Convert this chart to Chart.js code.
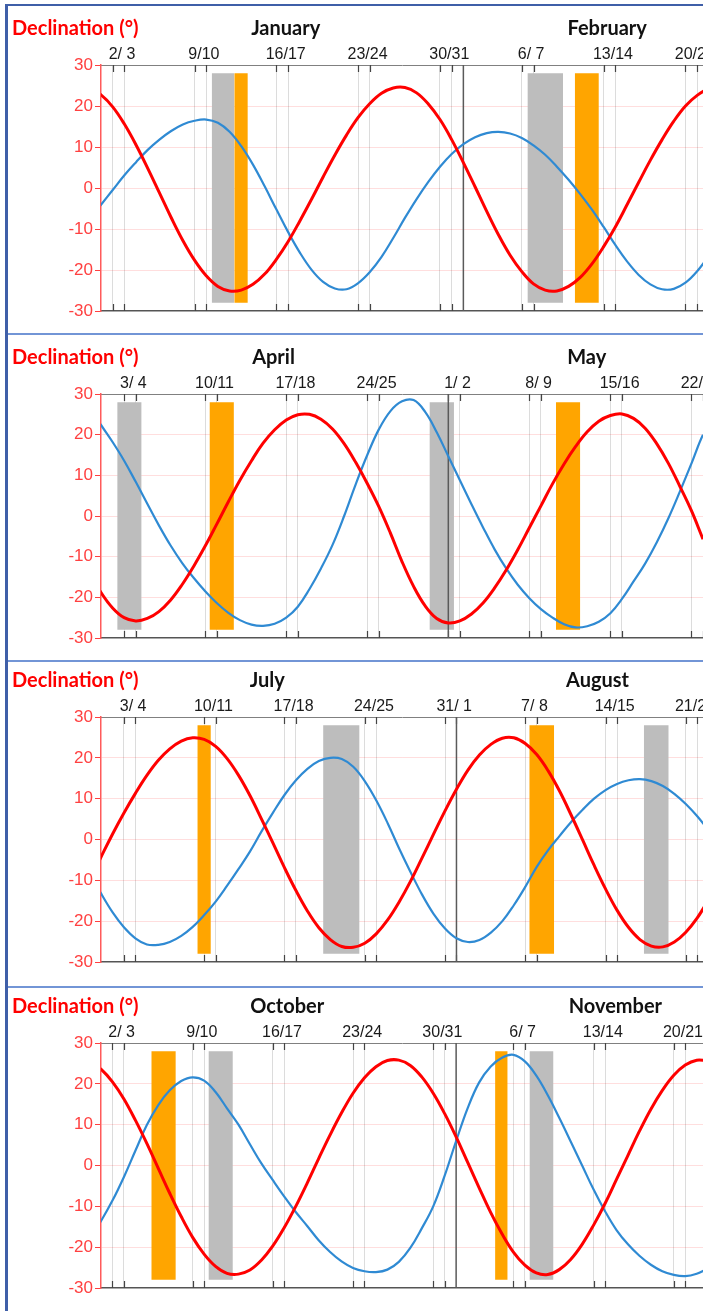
<!DOCTYPE html>
<html lang="en">
<head>
<meta charset="UTF-8">
<title>Declination (°)</title>
<script src="https://cdn.jsdelivr.net/npm/chart.js@4"></script>
<style>
  body { margin: 0; background: #fff; }
  .page { position: relative; width: 703px; height: 1311px; overflow: hidden; background: #fff; }
  .page canvas { position: absolute; left: 0; }
  .rule { position: absolute; z-index: 2; }
  .edge-left { left: 5px; top: 4px; width: 3px; height: 1307px; background: #3f5fa8; }
  .edge-top { left: 5px; top: 4px; width: 698px; height: 2px; background: #3f5fa8; }
  .sep { left: 8px; width: 695px; height: 2px; background: #7295d6; }
</style>
</head>
<body>
<div class="page">
  <div class="rule edge-left"></div>
  <div class="rule edge-top"></div>
  <div class="rule sep" style="top:333px"></div>
  <div class="rule sep" style="top:660px"></div>
  <div class="rule sep" style="top:986px"></div>
  <canvas id="c1" width="703" height="320" style="top:3px"></canvas>
  <canvas id="c2" width="703" height="318" style="top:332px"></canvas>
  <canvas id="c3" width="703" height="319" style="top:655px"></canvas>
  <canvas id="c4" width="703" height="319" style="top:981px"></canvas>
</div>
<script>
// days counted from the 1st of the first month of each panel (the 1st = 0), one value per day
const dayIndex = [-1, 0, 1, 2, 3, 4, 5, 6, 7, 8, 9, 10, 11, 12, 13, 14, 15, 16, 17, 18, 19,
    20, 21, 22, 23, 24, 25, 26, 27, 28, 29, 30, 31, 32, 33, 34, 35, 36, 37, 38, 39,
    40, 41, 42, 43, 44, 45, 46, 47, 48, 49, 50, 51, 52, 53];

// --- January / February
const p1Months = ['January', 'February'];
const p1MonthAt = [15.8, 43.3];
const p1TickDays = [1, 2, 8, 9, 15, 16, 22, 23, 29, 30, 36, 37, 43, 44, 50, 51];
const p1TickLabels = ['2/ 3', '9/10', '16/17', '23/24', '30/31', '6/ 7', '13/14', '20/21'];
const p1Red = [24.3, 22.7, 19.8, 15.6, 10.5, 4.8, -1.2, -7.2, -12.8, -17.6, -21.4, -24.0, -25.1, -24.9, -23.5, -21.0, -17.4, -13.1, -8.1, -2.8, 2.7, 8.0, 12.9, 17.2, 20.6, 23.1, 24.4, 24.5, 23.2, 20.5, 16.7, 11.8, 6.2, 0.3, -5.7, -11.4, -16.4, -20.4, -23.4, -24.9, -25.1, -24.0, -21.8, -18.5, -14.3, -9.5, -4.1, 1.4, 6.8, 11.8, 16.3, 20.0, 22.6, 24.2, 24.6];
const p1Blue = [-7.7, -4.1, -0.5, 3.1, 6.3, 9.3, 11.8, 13.9, 15.5, 16.4, 16.7, 15.9, 13.7, 10.2, 5.7, 0.4, -5.2, -10.7, -15.7, -19.9, -22.9, -24.5, -24.7, -23.2, -20.5, -16.8, -12.2, -7.3, -2.7, 1.5, 5.2, 8.3, 10.7, 12.4, 13.4, 13.7, 13.3, 12.2, 10.4, 8.1, 5.2, 2.0, -1.5, -5.3, -9.5, -13.9, -17.9, -21.2, -23.5, -24.7, -24.6, -23.1, -20.3, -16.5, -12.0];
const p1Grey = [[9.47, 11.40], [36.48, 39.53]];
const p1Orange = [[11.40, 12.56], [40.53, 42.59]];

// --- April / May
const p2Months = ['April', 'May'];
const p2MonthAt = [14.9, 41.95];
const p2TickDays = [2, 3, 9, 10, 16, 17, 23, 24, 30, 31, 37, 38, 44, 45, 51, 52];
const p2TickLabels = ['3/ 4', '10/11', '17/18', '24/25', '1/ 2', '8/ 9', '15/16', '22/23'];
const p2Red = [-13.8, -18.8, -22.6, -25.0, -25.8, -25.2, -23.5, -20.7, -16.9, -12.4, -7.4, -2.0, 3.5, 8.8, 13.6, 17.9, 21.2, 23.6, 24.9, 25.0, 23.8, 21.4, 17.8, 13.2, 8.0, 2.3, -4.2, -11.2, -17.3, -22.1, -25.2, -26.3, -25.8, -24.1, -21.4, -17.7, -13.3, -8.3, -2.9, 2.5, 7.9, 12.8, 17.1, 20.7, 23.3, 24.7, 25.1, 24.0, 21.6, 17.8, 13.0, 7.3, 1.3, -5.7, -12.5];
const p2Blue = [26.9, 22.4, 18.2, 13.6, 8.4, 3.0, -2.3, -7.2, -11.5, -15.2, -18.5, -21.4, -23.8, -25.6, -26.7, -27.0, -26.5, -25.0, -22.3, -18.0, -12.9, -7.1, 0.0, 7.8, 15.0, 21.3, 25.8, 28.2, 28.5, 25.6, 20.6, 14.7, 8.8, 2.9, -2.8, -8.2, -12.9, -16.9, -20.2, -22.9, -25.0, -26.6, -27.4, -27.1, -26.0, -23.9, -20.4, -16.1, -11.7, -6.5, -0.6, 6.0, 12.9, 20.0, 24.8];
const p2Grey = [[1.40, 3.51], [28.37, 30.49]];
const p2Orange = [[9.37, 11.48], [39.3, 41.4]];

// --- July / August
const p3Months = ['July', 'August'];
const p3MonthAt = [14.5, 43.3];
const p3TickDays = [2, 3, 9, 10, 16, 17, 23, 24, 30, 31, 37, 38, 44, 45, 51, 52];
const p3TickLabels = ['3/ 4', '10/11', '17/18', '24/25', '31/ 1', '7/ 8', '14/15', '21/22'];
const p3Red = [-10.0, -4.3, 1.3, 6.5, 11.3, 15.7, 19.4, 22.2, 24.1, 24.9, 24.5, 22.8, 19.8, 15.7, 10.7, 5.0, -0.9, -6.9, -12.5, -17.5, -21.6, -24.5, -26.2, -26.4, -25.4, -23.1, -19.7, -15.3, -10.2, -4.5, 1.3, 7.0, 12.3, 17.0, 20.7, 23.3, 24.8, 24.9, 23.5, 20.8, 16.8, 11.8, 6.0, -0.1, -6.3, -12.1, -17.3, -21.5, -24.5, -26.1, -26.3, -25.1, -22.7, -19.2, -14.7];
const p3Blue = [-8.0, -13.2, -17.8, -21.5, -24.2, -25.7, -25.8, -25.1, -23.6, -21.4, -18.5, -15.2, -11.3, -7.2, -2.9, 2.0, 6.6, 10.9, 14.5, 17.3, 19.2, 20.0, 19.7, 17.8, 14.3, 9.6, 4.0, -2.2, -8.0, -13.5, -18.2, -21.8, -24.2, -25.1, -24.6, -22.8, -20.0, -16.1, -11.6, -6.7, -2.6, 0.9, 4.3, 7.3, 10.0, 12.1, 13.6, 14.5, 14.8, 14.3, 13.1, 11.2, 8.7, 5.7, 2.2];
const p3Grey = [[19.37, 22.55], [47.34, 49.51]];
const p3Orange = [[8.4, 9.58], [37.35, 39.52]];

// --- October / November
const p4Months = ['October', 'November'];
const p4MonthAt = [16.25, 44.9];
const p4TickDays = [1, 2, 8, 9, 15, 16, 22, 23, 29, 30, 36, 37, 43, 44, 50, 51];
const p4TickLabels = ['2/ 3', '9/10', '16/17', '23/24', '30/31', '6/ 7', '13/14', '20/21'];
const p4Red = [25.5, 23.6, 20.5, 16.3, 11.1, 5.4, -0.7, -6.8, -12.5, -17.6, -21.7, -24.7, -26.4, -26.6, -25.6, -23.2, -19.7, -15.2, -10.0, -4.3, 1.7, 7.5, 12.9, 17.7, 21.5, 24.2, 25.7, 25.8, 24.5, 21.7, 17.7, 12.7, 7.0, 0.8, -5.4, -11.4, -16.7, -21.2, -24.4, -26.3, -26.7, -25.5, -23.0, -19.3, -14.6, -9.3, -3.4, 2.5, 8.4, 13.8, 18.4, 22.1, 24.6, 25.8, 25.6];
const p4Blue = [-18.0, -13.6, -8.6, -2.8, 3.6, 9.9, 14.8, 18.4, 20.7, 21.6, 20.8, 18.0, 14.0, 10.0, 5.2, 0.5, -3.6, -7.6, -11.4, -14.8, -18.3, -21.2, -23.5, -25.1, -25.9, -26.1, -25.5, -23.6, -20.2, -15.4, -10.0, -2.5, 6.0, 14.0, 20.3, 24.2, 26.4, 27.1, 25.5, 22.0, 17.2, 11.7, 5.9, 0.0, -5.9, -11.2, -15.8, -19.3, -22.1, -24.3, -25.9, -26.8, -27.1, -26.5, -25.2];
const p4Grey = [[9.38, 11.51], [37.4, 39.5]];
const p4Orange = [[4.39, 6.53], [34.4, 35.5]];

const RED = '#ff0000';
const BLUE = '#2f8ad3';
const GREY = '#bdbdbd';
const ORANGE = '#ffa500';

Chart.defaults.font.family = '"Liberation Sans", Arial, sans-serif';

function pts(degs) {
    return dayIndex.map((d, i) => ({ x: d, y: degs[i] }));
}

function band(range, colour) {
    return {
        data: [{ x: range[0], y: 28 }, { x: range[1], y: 28 }],
        fill: { value: -28 },
        backgroundColor: colour,
        borderWidth: 0,
        pointRadius: 0,
        order: 3
    };
}

function makePanel(id, xMax, months, monthAt, monthLine, tickDays, tickLabels, red, blue, grey, orange) {
    // label of a pair sits a little right of the middle of its two ticks
    const labelDays = tickLabels.map((_, i) => (tickDays[2 * i] + tickDays[2 * i + 1]) / 2 + 0.3);

    const decor = {
        id: 'decor',
        beforeDatasetDraw(chart, args) {
            if (chart.data.datasets[args.index].label !== 'blue') return;
            const { ctx, chartArea: a, scales: { x } } = chart;
            ctx.save();
            ctx.strokeStyle = '#444';
            ctx.lineWidth = 1.2;
            ctx.beginPath();
            tickDays.forEach(d => {
                const px = Math.round(x.getPixelForValue(d)) + 0.5;
                ctx.moveTo(px, a.top);
                ctx.lineTo(px, a.top + 7);
                ctx.moveTo(px, a.bottom);
                ctx.lineTo(px, a.bottom - 7);
            });
            ctx.stroke();
            const mx = x.getPixelForValue(monthLine);
            ctx.strokeStyle = '#5a5a5a';
            ctx.lineWidth = 1.5;
            ctx.beginPath();
            ctx.moveTo(mx, a.top);
            ctx.lineTo(mx, a.bottom);
            ctx.stroke();
            ctx.restore();
        },
        afterDraw(chart) {
            const { ctx, chartArea: a, scales: { x } } = chart;
            const ty = a.top - 36;
            ctx.save();
            ctx.textBaseline = 'middle';
            ctx.font = 'bold 20px Lato, "Open Sans", sans-serif';
            ctx.fillStyle = RED;
            ctx.textAlign = 'left';
            ctx.fillText('Declination (°)', 12, ty);
            ctx.fillStyle = '#111';
            ctx.textAlign = 'center';
            months.forEach((m, i) => ctx.fillText(m, x.getPixelForValue(monthAt[i]), ty));
            ctx.restore();
        }
    };

    const datasets = [];
    grey.forEach(r => datasets.push(band(r, GREY)));
    orange.forEach(r => datasets.push(band(r, ORANGE)));
    datasets.push({
        label: 'blue', data: pts(blue), borderColor: BLUE, borderWidth: 2.2,
        pointRadius: 0, fill: false, tension: 0.4, order: 2
    });
    datasets.push({
        label: 'red', data: pts(red), borderColor: RED, borderWidth: 3,
        pointRadius: 0, fill: false, tension: 0.4, order: 1
    });

    new Chart(document.getElementById(id), {
        type: 'line',
        data: { datasets },
        plugins: [decor],
        options: {
            responsive: false,
            animation: false,
            layout: { padding: { top: 36, left: 0, right: 0, bottom: 8 } },
            plugins: { legend: { display: false }, tooltip: { enabled: false } },
            scales: {
                x: {
                    type: 'linear', min: 0, max: xMax,
                    ticks: { display: false },
                    grid: { color: '#dcdcdc', lineWidth: 1, drawTicks: false },
                    border: { color: '#555', width: 1.5 },
                    afterBuildTicks: s => { s.ticks = tickDays.map(v => ({ value: v })); },
                    afterFit: s => { s.height = 4; s.paddingLeft = 0; s.paddingRight = 0; }
                },
                x2: {
                    type: 'linear', axis: 'x', position: 'top', min: 0, max: xMax,
                    grid: { display: false },
                    border: { color: '#808080', width: 1 },
                    ticks: {
                        autoSkip: false, maxRotation: 0, padding: -7,
                        color: '#1a1a1a', font: { size: 16 },
                        callback: (v, i) => tickLabels[i]
                    },
                    afterBuildTicks: s => { s.ticks = labelDays.map(v => ({ value: v })); },
                    afterFit: s => { s.height = 26; s.paddingLeft = 0; s.paddingRight = 0; }
                },
                y: {
                    min: -30, max: 30,
                    ticks: { stepSize: 10, color: '#ff4040', font: { size: 17 }, padding: 2 },
                    grid: {
                        color: c => (Math.abs(c.tick.value) === 30 ? 'rgba(0,0,0,0)' : 'rgba(255,0,0,0.13)'),
                        tickColor: '#ff4040', tickLength: 6
                    },
                    border: { color: '#ff5a5a', width: 1.5 },
                    afterFit: s => { s.width = 101; s.paddingTop = 0; s.paddingBottom = 0; }
                }
            }
        }
    });
}

makePanel('c1', 51.5, p1Months, p1MonthAt, 31, p1TickDays, p1TickLabels, p1Red, p1Blue, p1Grey, p1Orange);
makePanel('c2', 52.0, p2Months, p2MonthAt, 30, p2TickDays, p2TickLabels, p2Red, p2Blue, p2Grey, p2Orange);
makePanel('c3', 52.5, p3Months, p3MonthAt, 31, p3TickDays, p3TickLabels, p3Red, p3Blue, p3Grey, p3Orange);
makePanel('c4', 52.55, p4Months, p4MonthAt, 31, p4TickDays, p4TickLabels, p4Red, p4Blue, p4Grey, p4Orange);
</script>
</body>
</html>
